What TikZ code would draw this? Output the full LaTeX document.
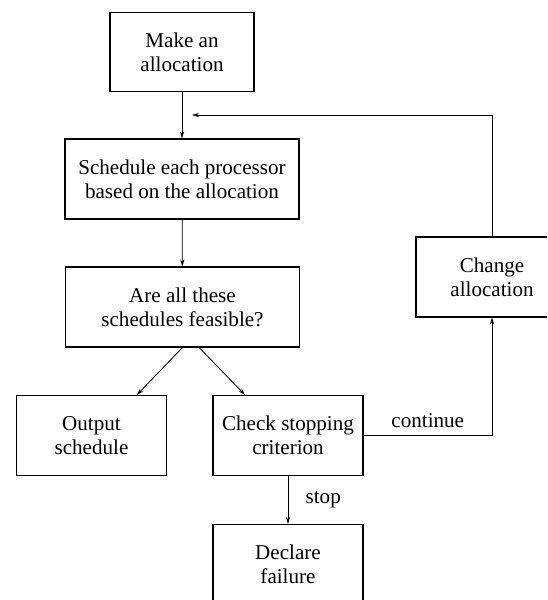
\documentclass[tikz,border=0pt]{standalone}
\usepackage{fontspec}
\setmainfont{Liberation Serif}
\usetikzlibrary{arrows.meta,calc}

\newcommand{\flowfont}{\fontsize{18}{20.5}\selectfont}

\begin{document}
\begin{tikzpicture}[
		x=0.03cm, y=-0.03cm,
		every node/.style={font=\flowfont},
		block/.style={draw, line width=0.9pt, align=center, inner sep=0pt,
			minimum width=4.5cm, minimum height=2.4cm},
		wideblock/.style={block, minimum width=7.02cm},
		flow/.style={line width=0.7pt, -{Stealth[length=6pt,width=3.6pt]}}
		]
		\clip (0,0) rectangle (547,600);
		\fill[white] (0,0) rectangle (547,600);
		% Main column
		\node[block, minimum width=4.32cm, minimum height=2.37cm] (make) at (182,52) {Make an\\allocation};
		\node[wideblock] (sched) at (182,179) {Schedule each processor\\based on the allocation};
		\node[wideblock] (feas) at (182.5,307) {Are all these\\schedules feasible?};
		% Outcomes
		\node[block] (output) at (91.5,435.5) {Output\\schedule};
		\node[block] (check) at (288,435.5) {Check stopping\\criterion};
		\node[block] (declare) at (288,564.5) {Declare\\failure};
		\node[block, minimum width=4.56cm] (change) at (492,277) {Change\\allocation};
		\coordinate (back) at (192,115);
		% Connectors
		\draw[flow] (make) -- (sched);
		\draw[flow] (sched) -- (feas);
		\draw[flow] (feas.south) -- ([xshift=1.36cm]output.north);
		\draw[flow] ([xshift=0.5cm]feas.south) -- ([xshift=-1.29cm]check.north);
		\draw[flow] (check) -- node[right=0.4cm] {stop} (declare);
		\draw[flow] (check.east) -| node[pos=0.25, above=0.1cm] {continue} (change.south);
		% Loop back
		\draw[flow] (change.north) |- (back);
	\end{tikzpicture}
\end{document}
